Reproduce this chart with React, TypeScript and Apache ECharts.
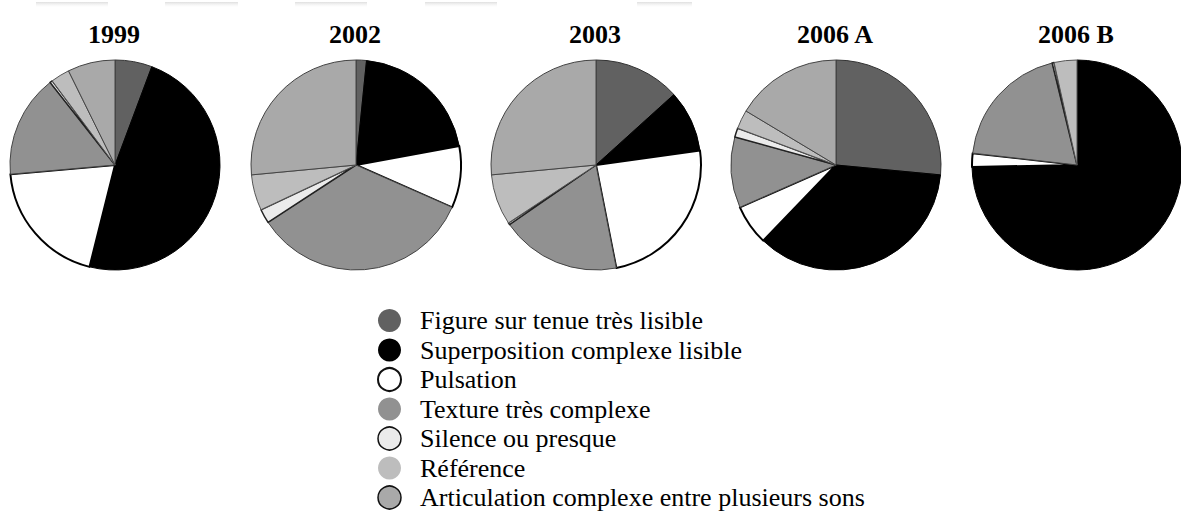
import React, { useEffect, useRef } from "react";
import * as echarts from "echarts";

const categories = [
  "Figure sur tenue très lisible",
  "Superposition complexe lisible",
  "Pulsation",
  "Texture très complexe",
  "Silence ou presque",
  "Référence",
  "Articulation complexe entre plusieurs sons",
];

const pieTitles = ["1999", "2002", "2003", "2006 A", "2006 B"];

const values1999 = [5.7, 48.2, 19.7, 15.8, 0.4, 2.9, 7.3];
const values2002 = [1.6, 20.5, 9.5, 34.2, 2.2, 5.5, 26.5];
const values2003 = [13.3, 9.5, 24.1, 18.5, 0.3, 7.8, 26.5];
const values2006A = [26.5, 35.7, 6.2, 10.9, 1.4, 2.9, 16.4];
const values2006B = [0, 74.7, 2.1, 19.4, 0.3, 3.5, 0];

const allValues = [values1999, values2002, values2003, values2006A, values2006B];

const colors = ["#616161", "#000000", "#ffffff", "#919191", "#ebebeb", "#bdbdbd", "#a9a9a9"];
const borderColors = ["#333333", "#000000", "#000000", "#444444", "#222222", "#555555", "#444444"];
const borderWidths = [1, 1, 2, 1, 1.5, 1, 1];
const legendBorderWidths = [0, 0, 2, 0, 1.5, 0, 1.5];

const pieCentersX = [115, 356, 596, 836, 1077];
const pieCenterY = 165;
const pieRadius = 105;

const shadowRanges = [
  [36, 108],
  [165, 238],
  [295, 367],
  [425, 497],
  [637, 692],
];

export default function App() {
  const ref = useRef<HTMLDivElement>(null);

  useEffect(() => {
    if (!ref.current) return;
    const chart = echarts.init(ref.current, null, { renderer: "svg" });

    const series = allValues.map((vals, si) => ({
      type: "pie",
      name: pieTitles[si],
      center: [pieCentersX[si], pieCenterY],
      radius: pieRadius,
      startAngle: 90,
      clockwise: true,
      label: { show: false },
      labelLine: { show: false },
      emphasis: { disabled: true },
      silent: true,
      data: categories.map((c, i) => ({
        name: c,
        value: vals[i],
        itemStyle: {
          color: colors[i],
          borderColor: borderColors[i],
          borderWidth: vals[i] > 0 ? borderWidths[i] : 0,
        },
      })),
    }));

    const graphics: any[] = [];
    pieTitles.forEach((t, i) => {
      graphics.push({
        type: "text",
        x: pieCentersX[i] - 1,
        y: 34,
        style: {
          text: t,
          fill: "#000",
          font: "bold 26px 'Liberation Serif', 'Times New Roman', serif",
          textAlign: "center",
          textVerticalAlign: "middle",
        },
      });
    });
    shadowRanges.forEach(([a, b]) => {
      graphics.push({
        type: "rect",
        shape: { x: a, y: 2, width: b - a, height: 6 },
        style: {
          fill: new echarts.graphic.LinearGradient(0, 0, 0, 1, [
            { offset: 0, color: "rgba(200,200,200,0.6)" },
            { offset: 1, color: "rgba(255,255,255,0)" },
          ]),
        },
        silent: true,
      });
    });

    chart.setOption({
      animation: false,
      backgroundColor: "#ffffff",
      legend: {
        orient: "vertical",
        left: 377,
        top: 307.5,
        height: 280,
        padding: 0,
        icon: "circle",
        itemWidth: 23,
        itemHeight: 23,
        itemGap: 3.5,
        selectedMode: false,
        textStyle: {
          fontFamily: "'Liberation Serif', 'Times New Roman', serif",
          fontSize: 26,
          color: "#000",
          padding: [0, 0, 0, 14],
        },
        data: categories.map((c, i) => ({
          name: c,
          itemStyle: {
            color: colors[i],
            borderColor: "#111",
            borderWidth: legendBorderWidths[i],
          },
        })),
      },
      graphic: graphics,
      series,
    });

    return () => chart.dispose();
  }, []);

  return (
    <div
      ref={ref}
      style={{ position: "fixed", left: 0, top: 0, width: 1181, height: 513 }}
    />
  );
}
